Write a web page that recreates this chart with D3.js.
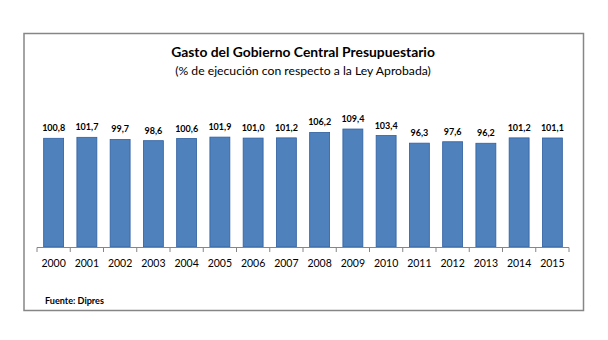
<!DOCTYPE html>
<html><head><meta charset="utf-8">
<script src="https://cdn.jsdelivr.net/npm/d3@7"></script>
<style>body{margin:0;background:#fff}svg{display:block}</style>
</head><body>
<script>
const years = ["2000","2001","2002","2003","2004","2005","2006","2007","2008","2009","2010","2011","2012","2013","2014","2015"];
const values = [100.8,101.7,99.7,98.6,100.6,101.9,101.0,101.2,106.2,109.4,103.4,96.3,97.6,96.2,101.2,101.1];
const title = "Gasto del Gobierno Central Presupuestario";
const subtitle = "(% de ejecución con respecto a la Ley Aprobada)";
const source = "Fuente: Dipres";

const W = 608, H = 340;
const font = "Lato, 'Open Sans', sans-serif";
const svg = d3.select("body").append("svg").attr("width", W).attr("height", H);

svg.append("rect").attr("x", 24).attr("y", 33.5).attr("width", 559.5).attr("height", 277)
  .attr("fill", "#fff").attr("stroke", "#868686").attr("stroke-width", 1.5);

function fitText(sel, target) {
  const n = sel.node(); const w = n.getComputedTextLength();
  const fs = parseFloat(sel.attr("font-size"));
  sel.attr("font-size", fs * target / w);
}

const t1 = svg.append("text").attr("x", 303).attr("y", 56.5).attr("text-anchor", "middle")
  .attr("font-family", font).attr("font-weight", "bold").attr("font-size", 14).attr("fill", "#000").text(title);
fitText(t1, 264);
const t2 = svg.append("text").attr("x", 303).attr("y", 74.5).attr("text-anchor", "middle")
  .attr("font-family", font).attr("font-size", 12).attr("fill", "#000").text(subtitle);
fitText(t2, 256);

const x = d3.scaleBand().domain(years).range([37, 569]).paddingInner(0.4).paddingOuter(0.2);
const y = d3.scaleLinear().domain([0, 120]).range([247, 117.6]);

svg.append("g").selectAll("rect").data(values).join("rect")
  .attr("x", (d, i) => x(years[i]))
  .attr("y", d => y(d))
  .attr("width", x.bandwidth())
  .attr("height", d => y(0) - y(d))
  .attr("fill", "#4F81BD").attr("stroke", "#2F5FA0").attr("stroke-width", 0.8);

const fmt = d => d3.format(".1f")(d).replace(".", ",");
svg.append("g").selectAll("text").data(values).join("text")
  .attr("x", (d, i) => x(years[i]) + x.bandwidth() / 2)
  .attr("y", d => y(d) - 7)
  .attr("text-anchor", "middle").attr("font-family", font).attr("font-weight", "bold")
  .attr("font-size", 9).attr("fill", "#000").text(fmt);

// axis
const ax = svg.append("g");
ax.append("line").attr("x1", 37).attr("x2", 569).attr("y1", 247.5).attr("y2", 247.5)
  .attr("stroke", "#868686").attr("stroke-width", 1);
const step = x.step();
const bounds = d3.range(years.length + 1).map(i => x(years[0]) - x.step() * x.paddingOuter() + i * step);
ax.selectAll("line.tk").data(bounds).join("line").attr("class", "tk")
  .attr("x1", d => d).attr("x2", d => d).attr("y1", 247.5).attr("y2", 252)
  .attr("stroke", "#868686").attr("stroke-width", 1);
ax.selectAll("text").data(years).join("text")
  .attr("x", d => x(d) + x.bandwidth() / 2).attr("y", 266.5)
  .attr("text-anchor", "middle").attr("font-family", font).attr("font-size", 10.5)
  .attr("fill", "#000").text(d => d);

const s = svg.append("text").attr("x", 45).attr("y", 304).attr("font-family", font)
  .attr("font-weight", "bold").attr("font-size", 9).attr("fill", "#000").text(source);
fitText(s, 59);
</script>
</body></html>
